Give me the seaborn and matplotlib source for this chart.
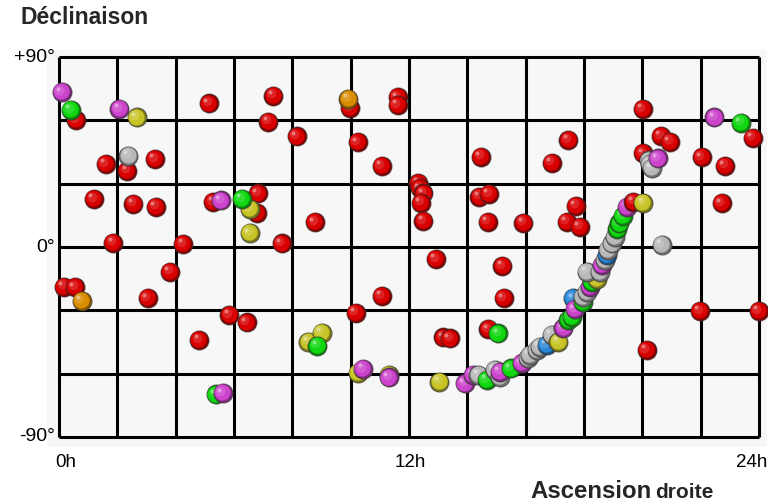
import numpy as np
import pandas as pd
import seaborn as sns
import matplotlib
matplotlib.use('Agg')
import matplotlib.pyplot as plt
import matplotlib.transforms as mtrans
from matplotlib.colors import to_rgb

# 数据：赤经 (h) / 赤纬 (°)，按颜色分组
red_ra = [0.58, 5.15, 1.6, 2.34, 3.29, 1.2, 2.55, 3.33, 5.29, 6.82, 6.78, 1.86, 4.26, 3.81,
          0.18, 0.55, 3.04, 5.84, 6.43, 4.81, 7.35, 7.18, 8.15, 9.98, 11.61, 11.61, 10.24,
          11.06, 14.47, 8.78, 7.63, 12.32, 12.38, 12.49, 12.41, 12.49, 14.41, 14.74, 14.7,
          12.92, 15.2, 11.06, 10.17, 13.18, 13.41, 14.72, 15.24, 20.15, 21.98, 23.98, 15.92,
          17.4, 17.86, 17.72, 16.89, 17.46, 20.01, 20.64, 20.95, 20.03, 22.03, 22.83, 23.78,
          22.72]
red_dec = [60.2, 68.0, 39.3, 36.2, 41.7, 22.7, 20.5, 19.1, 21.2, 25.4, 16.0, 2.0, 1.4, -11.7,
           -18.8, -19.1, -24.3, -32.2, -35.7, -44.1, 71.7, 59.4, 52.4, 65.7, 70.9, 67.3, 49.6,
           38.4, 42.8, 11.7, 1.7, 30.2, 27.8, 25.4, 21.0, 12.3, 23.8, 25.1, 12.0,
           -5.7, -9.0, -23.2, -31.1, -42.8, -43.3, -39.0, -24.3, -48.8, -30.3, -30.3, 11.5,
           12.0, 9.6, 19.6, 39.9, 50.7, 65.4, 52.6, 49.9, 44.4, 42.5, 38.5, 51.8,
           20.7]

magenta_ra = [0.09, 2.07, 5.56, 5.61, 10.43, 11.32, 20.52, 22.47]
magenta_dec = [73.3, 65.4, 22.1, -69.3, -57.9, -61.8, 42.0, 61.4]

green_ra = [0.41, 6.28, 5.38, 8.86, 15.06, 23.38]
green_dec = [64.9, 22.7, -69.8, -46.8, -40.9, 58.9]

yellow_ra = [2.66, 6.55, 6.55, 8.55, 9.0, 10.26, 11.32, 13.04]
yellow_dec = [61.4, 17.9, 6.5, -44.9, -40.6, -59.5, -60.6, -63.8]

grey_ra = [2.38, 20.22, 20.26, 20.32, 20.66]
grey_dec = [43.3, 41.0, 39.3, 37.3, 0.9]

orange_ra = [0.78, 9.92]
orange_dec = [-25.4, 70.1]

# 曲线上的点（按顺序绘制）
curve_ra = [13.92, 14.2, 14.38, 14.66, 14.95, 15.12, 15.12, 15.48, 15.86, 16.08, 16.15, 16.38,
            16.49, 16.72, 16.89, 17.12, 17.29, 17.46, 17.57, 17.63, 17.69, 17.97, 17.97, 18.09,
            18.2, 18.26, 18.43, 18.09, 18.55, 18.6, 18.72, 18.77, 18.83, 18.95, 19.06, 19.14,
            19.21, 19.34, 19.48, 19.69, 20.03]
curve_dec = [-64.6, -60.6, -60.6, -63.0, -58.3, -61.4, -59.0, -57.5, -55.1, -52.5, -51.2, -48.8,
             -47.2, -46.4, -41.7, -44.9, -38.5, -34.6, -33.0, -24.3, -29.5, -25.9, -23.5, -21.2,
             -18.8, -16.4, -15.3, -11.7, -11.7, -8.5, -6.2, -3.8, -1.4, 1.7, 4.9, 8.4,
             11.2, 14.7, 19.1, 21.5, 21.0]
curve_kind = ['magenta', 'magenta', 'grey', 'green', 'grey', 'grey', 'magenta', 'green', 'magenta',
              'grey', 'grey', 'grey', 'grey', 'blue', 'grey', 'yellow', 'magenta', 'green', 'green',
              'blue', 'magenta', 'green', 'grey', 'grey', 'magenta', 'green', 'yellow', 'grey', 'grey',
              'magenta', 'grey', 'blue', 'grey', 'grey', 'grey', 'green', 'green', 'green', 'magenta',
              'red', 'yellow']

ra_ticks = [0, 12, 24]
ra_labels = ['0h', '12h', '24h']
dec_ticks = [90, 0, -90]
dec_labels = ['+90°', '0°', '-90°']

palette = {'red': '#d80000', 'magenta': '#cc44cc', 'green': '#10d810', 'yellow': '#c8c428',
           'grey': '#b8b8b8', 'orange': '#d88c00', 'blue': '#2a88d8'}

frames = []
for kind, ra, dec in [('red', red_ra, red_dec), ('orange', orange_ra, orange_dec),
                      ('grey', grey_ra, grey_dec), ('yellow', yellow_ra, yellow_dec),
                      ('green', green_ra, green_dec), ('magenta', magenta_ra, magenta_dec)]:
    frames.append(pd.DataFrame({'ra': ra, 'dec': dec, 'kind': kind}))
frames.append(pd.DataFrame({'ra': curve_ra, 'dec': curve_dec, 'kind': curve_kind}))
df = pd.concat(frames, ignore_index=True)

sns.set_theme(style='white')
plt.rcParams['font.family'] = ['Liberation Sans', 'DejaVu Sans']

fig = plt.figure(figsize=(7.68, 5.04), dpi=100)
ax = fig.add_axes([47 / 768, 1 - 447 / 504, 720 / 768, 397 / 504])
ax.set_facecolor('#f7f7f7')

# 网格线
ax.vlines(np.arange(0, 25, 2), -90, 90, color='black', linewidth=2.2, zorder=1)
ax.hlines(np.arange(-90, 91, 30), 0, 24, color='black', linewidth=2.2, zorder=1)


def shifted(dx, dy):
    return ax.transData + mtrans.ScaledTranslation(dx / 72, dy / 72, fig.dpi_scale_trans)


# 球形点：底色 + 亮部
for _, row in df.iterrows():
    c = np.array(to_rgb(palette[row['kind']]))
    sns.scatterplot(x=[row['ra']], y=[row['dec']], s=188, color=tuple(c * 0.62),
                    edgecolor=(0.2, 0.2, 0.2, 0.75), linewidth=0.7, ax=ax, zorder=3, legend=False)
    ax.scatter([row['ra']], [row['dec']], s=135, color=tuple(c), linewidths=0,
               transform=shifted(-0.6, 0.6), zorder=3)
    ax.scatter([row['ra']], [row['dec']], s=50, color=tuple(c + (1 - c) * 0.25), alpha=0.55,
               linewidths=0, transform=shifted(-1.7, 1.7), zorder=3)
    ax.scatter([row['ra']], [row['dec']], s=8, color='white', alpha=0.4,
               linewidths=0, transform=shifted(-2.7, 2.7), zorder=3)

ax.set_xlim(-0.411, 24.27)
ax.set_ylim(-94.74, 93.32)
ax.set_xticks([])
ax.set_yticks([])
ax.set_xlabel('')
ax.set_ylabel('')
for spine in ax.spines.values():
    spine.set_visible(False)

# 刻度文字
for v, lab in zip(dec_ticks, dec_labels):
    ax.text(-0.14, v, lab, ha='right', va='center', fontsize=14, color='black')
for v, lab, ha in zip(ra_ticks, ra_labels, ['left', 'center', 'right']):
    off = {'left': -0.14, 'center': 0.03, 'right': 0.27}[ha]
    ax.text(v + off, -0.038, lab, ha=ha, va='center', fontsize=13.5, color='black',
            transform=ax.get_xaxis_transform())

fig.text(20 / 768, 1 - 18 / 504, 'Déclinaison', fontsize=16.5, fontweight='bold', ha='left', va='center')
fig.text(530 / 768, 1 - 498 / 504, 'Ascension', fontsize=17.3, fontweight='bold', ha='left', va='baseline')
fig.text(655 / 768, 1 - 498 / 504, 'droite', fontsize=15, fontweight='bold', ha='left', va='baseline')

plt.savefig('out.png', dpi=100)
